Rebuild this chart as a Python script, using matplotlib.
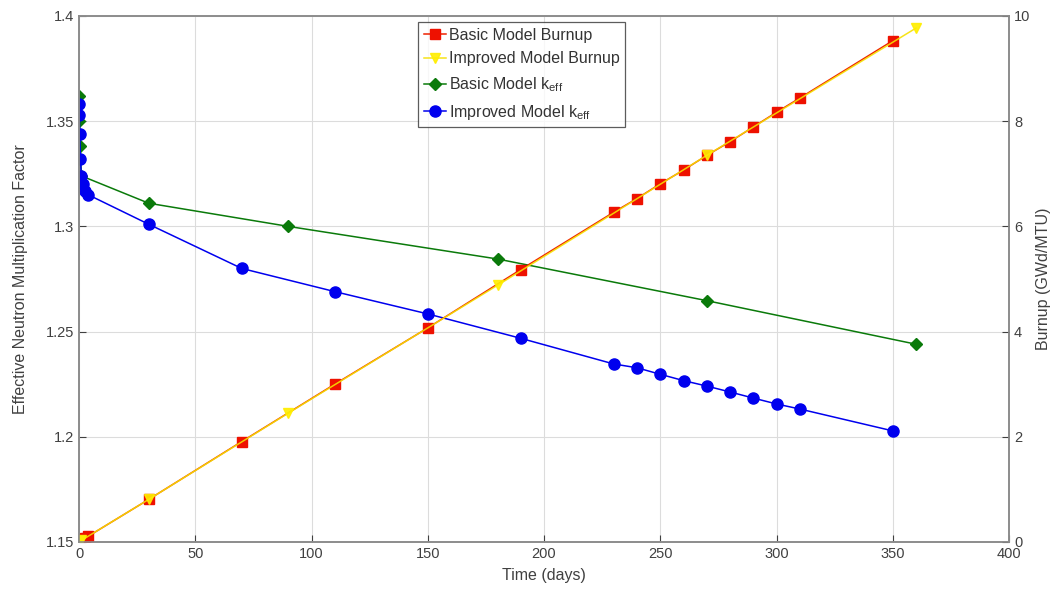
import matplotlib
matplotlib.use('Agg')
import matplotlib.pyplot as plt

plt.rcParams['font.family'] = ['Liberation Sans', 'DejaVu Sans']
plt.rcParams['mathtext.fontset'] = 'custom'
plt.rcParams['mathtext.rm'] = 'Liberation Sans'

# basic model: k_eff and burnup share the coarse time steps
basic_days = [0, 0.2, 0.5, 1, 30, 90, 180, 270, 360]
basic_keff = [1.362, 1.350, 1.338, 1.324, 1.311, 1.300, 1.2845, 1.2647, 1.244]
basic_burnup_days = [0, 0.1, 0.3, 0.6, 1, 1.5, 2.5, 4, 30, 70, 110, 150, 190,
                     230, 240, 250, 260, 270, 280, 290, 300, 310, 350]
basic_burnup = [0, 0, 0.01, 0.02, 0.03, 0.04, 0.07, 0.11, 0.81, 1.91, 3.0, 4.07, 5.18,
                6.27, 6.53, 6.81, 7.07, 7.35, 7.61, 7.89, 8.17, 8.44, 9.53]

# improved model
improved_days = [0, 0.1, 0.3, 0.6, 1, 1.5, 2.5, 4, 30, 70, 110, 150, 190,
                 230, 240, 250, 260, 270, 280, 290, 300, 310, 350]
improved_keff = [1.358, 1.353, 1.344, 1.332, 1.324, 1.320, 1.317, 1.315, 1.301, 1.280,
                 1.269, 1.2584, 1.2468, 1.2346, 1.2328, 1.2297, 1.2267, 1.2241,
                 1.2213, 1.2184, 1.2156, 1.2132, 1.2028]
improved_burnup_days = [0, 0.2, 0.5, 1, 30, 90, 180, 270, 360]
improved_burnup = [0, 0.005, 0.01, 0.03, 0.81, 2.45, 4.88, 7.35, 9.77]

fig = plt.figure(figsize=(10.58, 5.90), dpi=100)
ax = fig.add_axes([0.0747, 0.0814, 0.879, 0.8915])
ax2 = ax.twinx()

txt_col = '#404040'
spine_col = '#8c8c8c'

l3, = ax.plot(basic_days, basic_keff, color='#0a7a0a', marker='D', markersize=6,
              markerfacecolor='#0a7a0a', markeredgecolor='#0a7a0a', lw=1.1,
              label='Basic Model k$_{\\mathrm{eff}}$')
l4, = ax.plot(improved_days, improved_keff, color='#0000ee', marker='o', markersize=8,
              markerfacecolor='#0000ee', markeredgecolor='#0000ee', lw=1.1,
              label='Improved Model k$_{\\mathrm{eff}}$')

l1, = ax2.plot(basic_burnup_days, basic_burnup, color='#ee2200', marker='s', markersize=7,
               markerfacecolor='#ee1100', markeredgecolor='#ee1100', lw=1.1,
               label='Basic Model Burnup')
l2, = ax2.plot(improved_burnup_days, improved_burnup, color='#f5e000', marker='v', markersize=6.5,
               markerfacecolor='#ffee00', markeredgecolor='#ffee00', lw=1.1, alpha=0.9,
               label='Improved Model Burnup')

ax.set_xlim(0, 400)
ax.set_ylim(1.15, 1.4)
ax2.set_ylim(0, 10)
ax.set_xticks(range(0, 401, 50))
ax.set_yticks([1.15, 1.2, 1.25, 1.3, 1.35, 1.4])
ax.set_yticklabels(['1.15', '1.2', '1.25', '1.3', '1.35', '1.4'])
ax2.set_yticks(range(0, 11, 2))

ax.grid(True, color='#dcdcdc', lw=0.8)
ax.set_axisbelow(True)

for a in (ax, ax2):
    a.tick_params(direction='in', colors=txt_col, labelsize=10.5, length=5)
    for s in a.spines.values():
        s.set_color(spine_col)
        s.set_linewidth(1.2)

ax.set_xlabel('Time (days)', color=txt_col, fontsize=11.5, labelpad=5)
ax.set_ylabel('Effective Neutron Multiplication Factor', color=txt_col, fontsize=11.5, labelpad=13)
ax2.set_ylabel('Burnup (GWd/MTU)', color=txt_col, fontsize=11.5, labelpad=4)

leg = ax2.legend(handles=[l1, l2, l3, l4], loc='upper left', bbox_to_anchor=(0.3645, 0.9886),
                 borderaxespad=0, fontsize=11.5, frameon=True, fancybox=False,
                 handlelength=1.4, handletextpad=0.2, borderpad=0.35, labelspacing=0.55)
leg.get_frame().set_edgecolor('#333333')
leg.get_frame().set_linewidth(0.9)
for t in leg.get_texts():
    t.set_color('#333333')

fig.savefig('out.png', dpi=100)
